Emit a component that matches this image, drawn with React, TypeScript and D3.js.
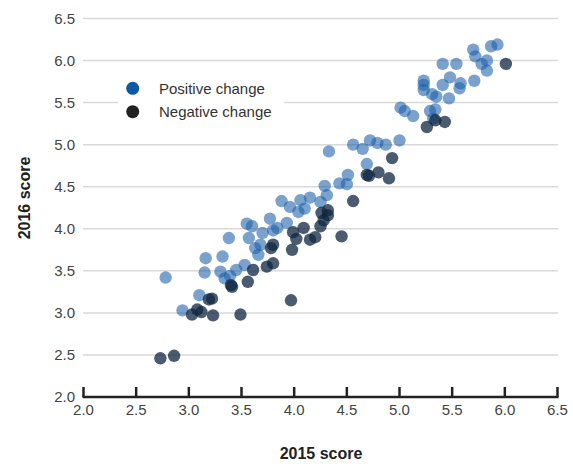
import React from "react";
import * as d3 from "d3";

const xTicks = [2.0, 2.5, 3.0, 3.5, 4.0, 4.5, 5.0, 5.5, 6.0, 6.5];
const yTicks = [2.0, 2.5, 3.0, 3.5, 4.0, 4.5, 5.0, 5.5, 6.0, 6.5];

const positiveX = [2.78, 2.94, 3.10, 3.15, 3.16, 3.30, 3.32, 3.34, 3.38, 3.39, 3.45, 3.53, 3.55, 3.57, 3.60, 3.63, 3.66, 3.68, 3.70, 3.77, 3.80, 3.84, 3.88, 3.93, 3.96, 4.04, 4.06, 4.10, 4.15, 4.25, 4.29, 4.31, 4.33, 4.43, 4.50, 4.51, 4.56, 4.65, 4.69, 4.72, 4.79, 4.87, 5.00, 5.01, 5.05, 5.13, 5.23, 5.23, 5.23, 5.29, 5.34, 5.32, 5.31, 5.35, 5.41, 5.41, 5.47, 5.48, 5.54, 5.57, 5.58, 5.70, 5.72, 5.71, 5.78, 5.83, 5.83, 5.87, 5.93];
const positiveY = [3.42, 3.03, 3.21, 3.48, 3.65, 3.49, 3.67, 3.41, 3.89, 3.44, 3.51, 3.57, 4.06, 3.89, 4.03, 3.77, 3.69, 3.81, 3.95, 4.12, 3.98, 4.01, 4.33, 4.07, 4.26, 4.20, 4.34, 4.24, 4.37, 4.32, 4.51, 4.40, 4.92, 4.54, 4.53, 4.64, 5.00, 4.95, 4.77, 5.05, 5.02, 5.00, 5.05, 5.44, 5.40, 5.34, 5.76, 5.71, 5.65, 5.40, 5.42, 5.31, 5.60, 5.57, 5.71, 5.96, 5.55, 5.80, 5.96, 5.67, 5.73, 6.13, 6.05, 5.76, 5.96, 6.00, 5.88, 6.17, 6.19];

const negativeX = [2.73, 2.86, 3.03, 3.08, 3.12, 3.19, 3.22, 3.23, 3.40, 3.41, 3.49, 3.56, 3.61, 3.74, 3.80, 3.78, 3.80, 3.97, 3.98, 3.99, 4.02, 4.09, 4.15, 4.20, 4.25, 4.28, 4.26, 4.32, 4.32, 4.45, 4.56, 4.69, 4.71, 4.80, 4.90, 4.93, 5.26, 5.34, 5.43, 6.01];
const negativeY = [2.46, 2.49, 2.98, 3.04, 3.01, 3.16, 3.17, 2.97, 3.33, 3.31, 2.98, 3.37, 3.51, 3.55, 3.59, 3.77, 3.81, 3.15, 3.75, 3.96, 3.88, 4.01, 3.87, 3.90, 4.03, 4.10, 4.19, 4.16, 4.22, 3.91, 4.33, 4.64, 4.63, 4.67, 4.60, 4.84, 5.21, 5.29, 5.27, 5.96];

const legendLabels = ["Positive change", "Negative change"];
const xTitle = "2015 score";
const yTitle = "2016 score";

const W = 573;
const H = 464;
const FONT = "'Liberation Sans Narrow', 'Arial Narrow', 'Liberation Sans', sans-serif";

export default function App() {
  const x = d3.scaleLinear().domain([2, 6.5]).range([83.5, 557.5]);
  const y = d3.scaleLinear().domain([2, 6.5]).range([397, 18.5]);
  const fmt = d3.format(".1f");

  const pos = positiveX.map((v, i) => ({ x: v, y: positiveY[i] }));
  const neg = negativeX.map((v, i) => ({ x: v, y: negativeY[i] }));

  return (
    <div style={{ position: "absolute", left: 0, top: 0 }}>
      <svg width={W} height={H} style={{ display: "block", background: "#fff" }}>
        {/* gridlines */}
        {yTicks.filter((t) => t > 2).map((t) => (
          <line key={"g" + t} x1={83} x2={558} y1={y(t)} y2={y(t)} stroke="#d9d9d9" strokeWidth={1.5} />
        ))}
        {/* y tick labels */}
        {yTicks.map((t) => (
          <text key={"yl" + t} x={75} y={y(t)} dy="0.35em" textAnchor="end" fontFamily={FONT} fontSize={15} fill="#444">
            {fmt(t)}
          </text>
        ))}
        {/* legend background */}
        <rect x={118} y={68} width={166} height={57} fill="#fff" />
        {/* points */}
        {pos.map((d, i) => (
          <circle key={"p" + i} cx={x(d.x)} cy={y(d.y)} r={6.2} fill="#1a5ea8" fillOpacity={0.58} />
        ))}
        {neg.map((d, i) => (
          <circle key={"n" + i} cx={x(d.x)} cy={y(d.y)} r={6.2} fill="#0f2540" fillOpacity={0.75} />
        ))}
        {/* x axis */}
        <line x1={82.5} x2={558.5} y1={397} y2={397} stroke="#222" strokeWidth={2.5} />
        {xTicks.map((t) => (
          <g key={"xt" + t}>
            <line x1={x(t)} x2={x(t)} y1={397} y2={387} stroke="#222" strokeWidth={2.5} />
            <text x={x(t)} y={415} textAnchor="middle" fontFamily={FONT} fontSize={15} fill="#444">
              {fmt(t)}
            </text>
          </g>
        ))}
        {/* axis titles */}
        <text x={321} y={459} textAnchor="middle" fontFamily={FONT} fontSize={16} fontWeight="bold" fill="#222">
          {xTitle}
        </text>
        <text transform={`translate(30,198) rotate(-90)`} textAnchor="middle" fontFamily={FONT} fontSize={16} fontWeight="bold" fill="#222">
          {yTitle}
        </text>
        {/* legend */}
        {legendLabels.map((l, i) => (
          <g key={"lg" + i}>
            <circle cx={132.7} cy={88.3 + i * 23.4} r={6.5} fill={i === 0 ? "#1057a5" : "#222"} />
            <text x={159} y={88.3 + i * 23.4} dy="0.35em" fontFamily={FONT} fontSize={15} fill="#333">
              {l}
            </text>
          </g>
        ))}
      </svg>
    </div>
  );
}
